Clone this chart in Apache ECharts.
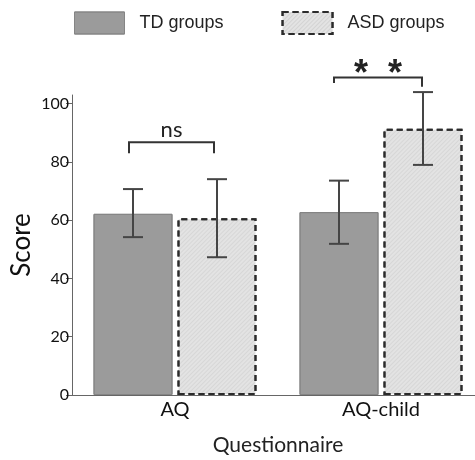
<!DOCTYPE html>
<html>
<head>
<meta charset="utf-8">
<script src="https://cdn.jsdelivr.net/npm/echarts@6/dist/echarts.min.js"></script>
<style>
    html, body {margin: 0; padding: 0; background: #fff;}
    #chart {width: 475px; height: 460px;}
</style>
</head>
<body>
<div id="chart"></div>
<script>
const categories = ["AQ", "AQ-child"];
const seriesNames = ["TD groups", "ASD groups"];
const tdMeans = [62.2, 62.8];
const tdUpper = [70.7, 73.6];
const tdLower = [54.2, 51.9];
const asdMeans = [60.7, 91.4];
const asdUpper = [74.1, 104.0];
const asdLower = [47.3, 79.0];
const yTicks = [0, 20, 40, 60, 80, 100];
// significance brackets: top line, left leg end, right leg end
const bracketTops = [86.8, 109.0];
const bracketLeftEnds = [83.0, 107.1];
const bracketRightEnds = [83.0, 105.8];
const bracketLabels = ["ns", "* *"];

const chart = echarts.init(document.getElementById("chart"));
const font = "Lato";
const barOffset = 42;

const noDecal = {symbol: "none"};
const tdStyle = {color: "#9b9b9b", borderColor: "#858585", borderWidth: 1, decal: noDecal};
const asdStyle = {
    color: "#e3e3e3",
    borderColor: "#2b2b2b",
    borderWidth: 2,
    borderType: [6, 4],
    decal: {
        symbol: "rect",
        dashArrayX: [1, 0],
        dashArrayY: [1, 2],
        rotation: -Math.PI / 4,
        color: "rgba(0,0,0,0.07)"
    }
};

function errorSeries(means, upper, lower, side) {
    return {
        type: "custom",
        silent: true,
        z: 5,
        data: categories.map((c, i) => [i, lower[i], upper[i]]),
        renderItem(params, api) {
            const lo = api.coord([api.value(0), api.value(1)]);
            const hi = api.coord([api.value(0), api.value(2)]);
            const x = lo[0] + side * barOffset;
            const style = {stroke: "#454545", lineWidth: 2};
            return {
                type: "group",
                children: [
                    {type: "line", shape: {x1: x, y1: hi[1], x2: x, y2: lo[1]}, style},
                    {type: "line", shape: {x1: x - 10, y1: hi[1], x2: x + 10, y2: hi[1]}, style},
                    {type: "line", shape: {x1: x - 10, y1: lo[1], x2: x + 10, y2: lo[1]}, style}
                ]
            };
        }
    };
}

const bracketSeries = {
    type: "custom",
    silent: true,
    z: 6,
    data: categories.map((c, i) => [i, bracketTops[i], bracketLeftEnds[i], bracketRightEnds[i]]),
    renderItem(params, api) {
        const i = params.dataIndex;
        const top = api.coord([api.value(0), api.value(1)]);
        const leftEnd = api.coord([api.value(0), api.value(2)]);
        const rightEnd = api.coord([api.value(0), api.value(3)]);
        const xl = top[0] - barOffset - 4 - (i === 1 ? 1 : 0);
        const xr = top[0] + barOffset - 3 + (i === 1 ? 2 : 0);
        const children = [{
            type: "polyline",
            shape: {points: [[xl, leftEnd[1]], [xl, top[1]], [xr, top[1]], [xr, rightEnd[1]]]},
            style: {stroke: "#333", lineWidth: 2, fill: null}
        }];
        if (bracketLabels[i] === "ns") {
            children.push({
                type: "text",
                x: (xl + xr) / 2, y: top[1] - 12,
                style: {text: "ns", font: `22px ${font}`, fill: "#222", align: "center", verticalAlign: "middle"}
            });
        } else {
            bracketLabels[i].split(" ").forEach((s, k) => {
                children.push({
                    type: "text",
                    x: (xl + xr) / 2 + (k === 0 ? -17 : 17), y: top[1] - 2,
                    style: {text: s, font: `bold 36px "Liberation Sans"`, fill: "#222", align: "center", verticalAlign: "middle"}
                });
            });
        }
        return {type: "group", children};
    }
};

chart.setOption({
    animation: false,
    aria: {enabled: true, decal: {show: true}},
    legend: {
        data: [
            {name: seriesNames[0], icon: "rect", itemStyle: tdStyle},
            {name: seriesNames[1], icon: "rect", itemStyle: asdStyle}
        ],
        left: 69,
        top: 6,
        itemWidth: 50,
        itemHeight: 22,
        itemGap: 58,
        textStyle: {fontFamily: "Liberation Sans", fontSize: 18, color: "#222", padding: [0, 0, 0, 10]}
    },
    grid: {left: 72, top: 95, width: 412, height: 300, outerBoundsMode: "none"},
    xAxis: {
        type: "category",
        data: categories,
        name: "Questionnaire",
        nameLocation: "middle",
        nameGap: 40,
        nameMoveOverlap: false,
        nameTextStyle: {fontFamily: font, fontSize: 21, color: "#222"},
        axisLine: {lineStyle: {color: "#666", width: 1}},
        axisTick: {show: false},
        axisLabel: {fontFamily: font, fontSize: 20, color: "#111", margin: 5}
    },
    yAxis: {
        type: "value",
        min: 0,
        max: 103,
        interval: 20,
        name: "Score",
        nameLocation: "middle",
        nameGap: 37,
        nameMoveOverlap: false,
        nameTextStyle: {fontFamily: font, fontSize: 26, color: "#111"},
        splitLine: {show: false},
        axisLine: {show: true, lineStyle: {color: "#666", width: 1}},
        axisTick: {show: true, length: 6, lineStyle: {color: "#666"}, customValues: yTicks},
        axisLabel: {fontFamily: font, fontSize: 16, color: "#111", margin: 3, customValues: yTicks}
    },
    series: [
        {
            name: seriesNames[0],
            type: "bar",
            data: tdMeans,
            barWidth: 79,
            barGap: "6.3%",
            itemStyle: tdStyle
        },
        {
            name: seriesNames[1],
            type: "bar",
            data: asdMeans,
            barWidth: 79,
            barGap: "6.3%",
            itemStyle: asdStyle
        },
        errorSeries(tdMeans, tdUpper, tdLower, -1),
        errorSeries(asdMeans, asdUpper, asdLower, 1),
        bracketSeries
    ]
});
</script>
</body>
</html>
